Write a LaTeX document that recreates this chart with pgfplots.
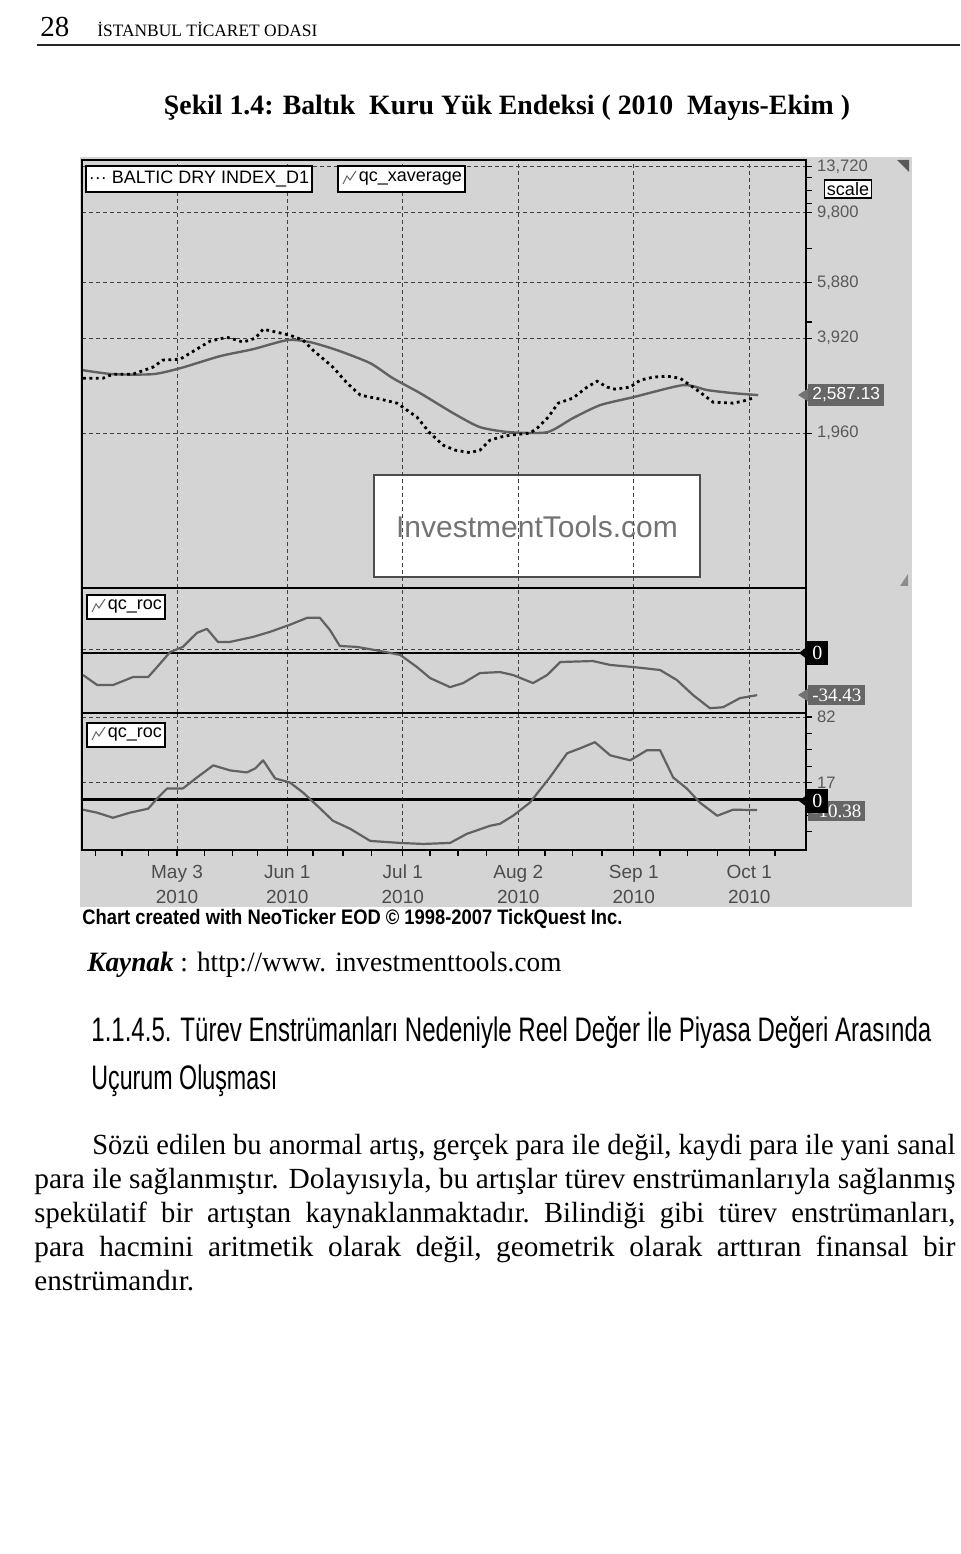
\documentclass[border=0pt]{standalone}
\usepackage{fontspec}
\setmainfont{Liberation Serif}
\setsansfont{Liberation Sans}
\usepackage{graphicx}
\usepackage{pgfplots}
\pgfplotsset{compat=1.18}
\newcommand{\fs}[1]{\fontsize{#1}{#1}\selectfont}
\newcommand{\hfit}[2]{\resizebox{#1}{\height}{#2}}
\pgfplotsset{panel/.style={
  scale only axis, width=362pt, anchor=south west,
  xmin=-18.1, xmax=119.8,
  axis line style={line width=1.3pt},
  xtick={0,21,43,65,87,109},
  xmajorgrids, ymajorgrids,
  major grid style={dash pattern=on 2pt off 1.5pt, line width=0.4pt, black!75},
  ytick pos=right, yticklabel pos=right,
  tick align=outside,
  /pgf/number format/assume math mode=true,
  yticklabel style={font=\sffamily\fs{8.3}, text=black!65, xshift=-1pt},
  major tick length=3pt, minor tick length=3pt,
  tick style={black, line width=0.6pt},
}}
\begin{document}
\begin{tikzpicture}[x=0.5pt,y=0.5pt]
\useasboundingbox (0,0) rectangle (960,1554);
\fill[white] (0,0) rectangle (960,1554);
% header
\node[anchor=base west, inner sep=0] at (40,1517) {\fs{14.5}28};
\node[anchor=base west, inner sep=0] at (97,1517) {\hfit{110pt}{\fs{8.7}İSTANBUL TİCARET ODASI}};
\draw[line width=1.3pt, black!85] (37,1509) -- (960,1509);
% title
\node[anchor=base, inner sep=0] at (507,1439) {\hfit{343pt}{\fs{14}\bfseries Şekil 1.4: Baltık\ \ Kuru Yük Endeksi ( 2010\ \ Mayıs-Ekim )}};
% chart background
\fill[black!17] (80,647) rectangle (912,1397);
\fill[white] (374,977) rectangle (700,1079);
\draw[black!70, line width=1pt] (374,977) rectangle (700,1079);
\node[text=black!55, font=\sffamily\fs{15}] at (537,1027) {InvestmentTools.com};

% ---------- top panel
\begin{axis}[panel, at={(41pt,483pt)}, height=214pt,
  ymode=log, ymin=633, ymax=14400,
  ytick={1960,3920,5880,9800,13720},
  yticklabels={{1,960},{3,920},{5,880},{9,800},{13,720}},
  minor ytick={4410,7560,10510,11550,12700},
  xticklabels={}, xtick style={draw=none}]
\addplot[black!62, line width=1.2pt, smooth, tension=0.4] coordinates {
(-17.9,3103) (-12.2,3015) (-4.6,3015) (0.6,3149) (8.2,3439) (14.5,3619) (21.0,3866)
(25.3,3811) (30.5,3592) (36.8,3267) (41.1,2928) (46.3,2625) (52.6,2268) (57.7,2048)
(63.4,1974) (70.5,1974) (75.4,2187) (80.6,2405) (86.9,2549) (96.4,2783) (101.0,2684)
(105.9,2625) (110.7,2587)};
\addplot[black, line width=1.4pt, dash pattern=on 1.4pt off 1.8pt] coordinates {
(-17.9,2928) (-14.1,2928) (-12.2,3015) (-8.4,3015) (-4.6,3173) (-2.7,3340) (0.6,3364)
(2.5,3515) (6.3,3838) (9.5,3949) (12.6,3811) (14.9,3920) (16.4,4187) (19.0,4096)
(21.5,4007) (24.0,3866) (25.9,3592) (29.7,3173) (32.4,2823) (34.9,2587) (38.7,2513)
(41.9,2440) (45.7,2203) (48.2,1960) (50.7,1795) (53.0,1731) (55.8,1700) (57.7,1731)
(59.6,1862) (61.5,1903) (63.4,1932) (67.2,1960) (68.6,2033) (70.7,2203) (72.6,2440)
(75.4,2531) (78.1,2743) (80.0,2864) (81.9,2743) (83.4,2703) (86.3,2743) (88.2,2885)
(90.7,2950) (93.3,2971) (95.8,2928) (97.7,2783) (99.6,2644) (102.1,2458) (105.9,2440)
(107.8,2476) (109.7,2531)};
\end{axis}

% ---------- middle panel
\begin{axis}[panel, at={(41pt,420.5pt)}, height=62.5pt,
  ymin=-49, ymax=53, ytick={2.5}, yticklabels={}, ytick style={draw=none},
  xticklabels={}, xtick style={draw=none}]
\draw[line width=1.3pt] (axis cs:-18.1,0) -- (axis cs:119.8,0);
\addplot[black!62, line width=1.1pt, line join=round] coordinates {
(-17.9,-18.0) (-15.2,-26.2) (-12.2,-26.2) (-8.4,-19.7) (-5.5,-19.7) (-3.8,-11.5)
(-1.3,0.8) (1.1,4.9) (3.8,16.4) (5.7,19.7) (7.8,9.0) (10.1,9.0) (14.5,13.1) (17.7,17.2)
(21.5,23.0) (24.8,28.7) (27.2,28.7) (29.1,18.9) (31.0,5.7) (34.3,4.9) (38.7,1.6)
(42.5,-1.6) (45.7,-11.5) (48.2,-20.5) (52.0,-27.9) (54.5,-24.6) (57.7,-16.4)
(61.5,-15.6) (64.0,-18.0) (67.8,-24.6) (70.5,-18.0) (73.0,-7.4) (79.2,-6.6) (82.5,-9.8)
(86.9,-11.5) (92.0,-13.9) (95.2,-22.1) (98.3,-34.4) (101.5,-45.1) (104.0,-44.3)
(107.2,-36.9) (110.5,-34.43)};
\end{axis}

% ---------- bottom panel
\begin{axis}[panel, at={(41pt,352pt)}, height=68.5pt,
  ymin=-50, ymax=86, ytick={17,82}, yticklabels={17,82},
  minor ytick={-31.75,-15.5,0.75,33.25,49.5,65.75},
  xtick pos=left,
  minor xtick={-15.6,-10.5,-5.5,5.3,10.5,15.4,25.9,31.6,37.1,48.2,53.5,59.0,70.1,75.4,80.95,92.0,97.3,103.0,113.9},
  xticklabels={{May 3\\2010},{Jun 1\\2010},{Jul 1\\2010},{Aug 2\\2010},{Sep 1\\2010},{Oct 1\\2010}},
  xticklabel style={align=center, font=\sffamily\fontsize{9.5}{12.5}\selectfont, text=black!70, yshift=-1pt}]
\draw[line width=1.3pt] (axis cs:-18.1,0) -- (axis cs:119.8,0);
\addplot[black!62, line width=1.1pt, line join=round] coordinates {
(-17.9,-10) (-15.2,-13) (-12.2,-18) (-9.0,-13) (-5.5,-9) (-3.8,1) (-1.9,11) (1.1,11)
(3.8,22) (6.9,34) (10.1,29) (13.3,27) (14.9,31) (16.4,39) (18.7,21) (21.5,17) (24.0,7)
(26.7,-6) (29.7,-21) (33.0,-29) (36.8,-41) (42.5,-43) (46.9,-44) (52.0,-43) (55.2,-34)
(59.6,-26) (61.5,-24) (64.0,-16) (67.2,-3) (71.0,22) (74.3,46) (76.8,51) (79.6,57)
(82.5,44) (86.3,39) (89.5,49) (92.0,49) (94.5,22) (97.1,11) (99.6,-3) (102.9,-16)
(105.9,-10) (110.5,-10.38)};
\end{axis}

% legends
\node[draw=black, fill=white, line width=0.8pt, anchor=north west, inner sep=1.5pt, minimum height=13pt, font=\sffamily\fs{9}] at (85,1389) {··· BALTIC DRY INDEX\_D1};
\node[draw=black, fill=white, line width=0.8pt, anchor=north west, inner sep=1.5pt, minimum height=13pt, font=\sffamily\fs{9}] at (337,1389) {\hspace{9pt}qc\_xaverage};
\draw[black!60, line width=0.5pt] (343,1370) -- (347,1378) -- (350,1374) -- (356,1383);
\node[draw=black, fill=white, line width=0.8pt, anchor=north west, inner sep=1.5pt, minimum height=12pt, font=\sffamily\fs{9}] at (86,960) {\hspace{9pt}qc\_roc};
\draw[black!60, line width=0.5pt] (92,942) -- (96,950) -- (99,946) -- (105,955);
\node[draw=black, fill=white, line width=0.8pt, anchor=north west, inner sep=1.5pt, minimum height=12pt, font=\sffamily\fs{9}] at (86,832) {\hspace{9pt}qc\_roc};
\draw[black!60, line width=0.5pt] (92,814) -- (96,822) -- (99,818) -- (105,827);

% right-hand labels
\node[draw=black, fill=white, line width=0.6pt, inner sep=1.2pt, font=\sffamily\fs{9}] at (848,1365) {scale};
\fill[black!55] (798,1159) -- (809,1166) -- (809,1152) -- cycle;
\node[fill=black!60, text=white, anchor=west, inner sep=2pt, font=\sffamily\fs{8.7}] at (808,1159) {2,587.13};
\fill[black] (799,901) -- (808,908) -- (808,894) -- cycle;
\node[fill=black, text=white, anchor=west, inner sep=1.5pt, minimum height=12pt, minimum width=11pt, font=\rmfamily\fs{10}] at (806,901) {0};
\fill[black!55] (798,859) -- (809,866) -- (809,852) -- cycle;
\node[fill=black!60, text=white, anchor=west, inner sep=2pt, font=\rmfamily\fs{9.5}] at (808,859) {-34.43};
\node[fill=black!60, text=white, anchor=west, inner sep=2pt, font=\rmfamily\fs{9.5}] at (808,743) {-10.38};
\fill[black] (799,753) -- (808,760) -- (808,746) -- cycle;
\node[fill=black, text=white, anchor=west, inner sep=1.5pt, minimum height=12pt, minimum width=11pt, font=\rmfamily\fs{10}] at (806,753) {0};
\fill[black!65] (897,1394) -- (909,1394) -- (909,1382) -- cycle;
\fill[black!45] (900,968) -- (908,980) -- (908,968) -- cycle;

% under chart
\node[anchor=base west, inner sep=0] at (82,629) {\hfit{270pt}{\sffamily\bfseries\fs{10.5}Chart created with NeoTicker EOD © 1998-2007 TickQuest Inc.}};
\node[anchor=base west, inner sep=0] at (87,582) {\hfit{237pt}{\fs{14}\textbf{\textit{Kaynak}} : http://www. investmenttools.com}};

% heading
\node[anchor=base west, inner sep=0] at (91,512) {\hfit{420pt}{\sffamily\fs{17}1.1.4.5. Türev Enstrümanları Nedeniyle Reel Değer İle Piyasa Değeri Arasında}};
\node[anchor=base west, inner sep=0] at (91,464) {\hfit{93pt}{\sffamily\fs{17}Uçurum Oluşması}};

% paragraph
\node[anchor=base west, inner sep=0] at (92,399) {\hfit{431.5pt}{\fs{14.6}Sözü edilen bu anormal artış, gerçek para ile değil, kaydi para ile yani sanal}};
\node[anchor=base west, inner sep=0] at (34,365) {\hfit{460.5pt}{\fs{14.6}para ile sağlanmıştır. Dolayısıyla, bu artışlar türev enstrümanlarıyla sağlanmış}};
\node[anchor=base west, inner sep=0] at (34,331) {\hfit{460.5pt}{\fs{14.6}spekülatif\ \ bir\ \ artıştan\ \ kaynaklanmaktadır.\ \ Bilindiği\ \ gibi\ \ türev\ \ enstrümanları,}};
\node[anchor=base west, inner sep=0] at (34,297) {\hfit{460.5pt}{\fs{14.6}para\ \ hacmini\ \ aritmetik\ \ olarak\ \ değil,\ \ geometrik\ \ olarak\ \ arttıran\ \ finansal\ \ bir}};
\node[anchor=base west, inner sep=0] at (34,263) {\fs{14.6}enstrümandır.};
\end{tikzpicture}
\end{document}
